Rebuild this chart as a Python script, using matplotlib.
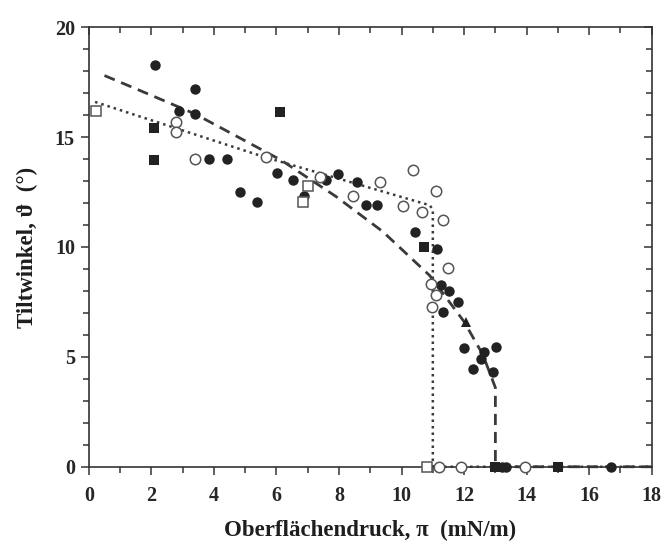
import matplotlib
matplotlib.use('Agg')
import matplotlib.pyplot as plt
from matplotlib.ticker import MultipleLocator

plt.rcParams['font.family'] = ['Liberation Serif', 'DejaVu Serif']
plt.rcParams['font.weight'] = 'bold'

# measured tilt angles, grouped by marker type (pi in mN/m, theta in deg)
filled_circle_x = [2.1, 3.39, 2.89, 3.39, 3.83, 4.42, 6.02, 4.82, 5.39, 6.53, 6.87,
                   7.57, 7.97, 8.57, 8.85, 9.22, 10.42, 11.13, 11.27, 11.51, 11.8,
                   11.32, 12.01, 13.03, 12.65, 12.55, 12.28, 12.92, 13.2, 13.35, 16.7]
filled_circle_y = [18.3, 17.2, 16.2, 16.05, 14.0, 14.0, 13.35, 12.5, 12.06, 13.05, 12.3,
                   13.05, 13.3, 12.97, 11.9, 11.9, 10.7, 9.92, 8.27, 8.01, 7.5,
                   7.06, 5.39, 5.47, 5.24, 4.9, 4.44, 4.33, 0, 0, 0]

open_circle_x = [2.8, 2.8, 3.39, 5.68, 7.38, 8.45, 9.3, 10.36, 10.04, 10.66, 11.09,
                 11.32, 11.48, 10.95, 11.1, 10.98, 11.2, 11.9, 13.95]
open_circle_y = [15.7, 15.25, 14.0, 14.1, 13.2, 12.3, 12.97, 13.5, 11.86, 11.6, 12.56,
                 11.23, 9.03, 8.32, 7.82, 7.29, 0, 0, 0]

filled_square_x = [6.1, 2.09, 2.09, 10.73, 13.0, 15.0]
filled_square_y = [16.15, 15.4, 13.95, 10.0, 0, 0]

open_square_x = [0.22, 7.0, 6.85, 10.8]
open_square_y = [16.2, 12.77, 12.06, 0]

triangle_x = [12.07]
triangle_y = [6.6]

# guide curves
dashed_x = [0.5, 2.0, 3.4, 6.15, 7.9, 9.4, 10.9, 12.0, 12.6, 13.0, 13.0, 18.0]
dashed_y = [17.8, 16.9, 16.05, 13.95, 12.3, 10.7, 8.7, 6.6, 5.1, 3.6, 0, 0]

dotted_x = [0.2, 5.6, 10.9, 11.0, 11.0, 18.0]
dotted_y = [16.6, 14.1, 11.9, 11.7, 0, 0]

ink = '#222222'

fig = plt.figure(figsize=(6.63, 5.55), dpi=100)
ax = fig.add_axes([0.134, 0.159, 0.849, 0.792])

ax.plot(dashed_x, dashed_y, color='#3a3a3a', lw=2.0, ls=(0, (4, 2.5)), zorder=2, clip_on=False)
ax.plot(dotted_x, dotted_y, color='#3a3a3a', lw=1.8, ls=(0, (1, 1.6)), zorder=2, clip_on=False)

ms = 7.5
ax.plot(filled_circle_x, filled_circle_y, 'o', color=ink, ms=ms, mew=0, zorder=3, clip_on=False)
ax.plot(open_circle_x, open_circle_y, 'o', mfc='white', mec='#555555', ms=ms, mew=1.1,
        zorder=4, clip_on=False)
ax.plot(filled_square_x, filled_square_y, 's', color=ink, ms=7.0, mew=0, zorder=3, clip_on=False)
ax.plot(open_square_x, open_square_y, 's', mfc='white', mec='#555555', ms=6.6, mew=1.1,
        zorder=4, clip_on=False)
ax.plot(triangle_x, triangle_y, '^', color=ink, ms=7.8, mew=0, zorder=3, clip_on=False)

ax.set_xlim(0, 18)
ax.set_ylim(0, 20)

for s in ax.spines.values():
    s.set_color('#333333')
    s.set_linewidth(1.2)

ax.xaxis.set_major_locator(MultipleLocator(2))
ax.xaxis.set_minor_locator(MultipleLocator(1))
ax.yaxis.set_major_locator(MultipleLocator(5))
ax.yaxis.set_minor_locator(MultipleLocator(1))
ax.tick_params(which='both', direction='out', color='#333333', width=1.1,
               top=False, right=False, labelsize=14.5, labelcolor='#262626')
ax.tick_params(axis='x', pad=8)
ax.tick_params(axis='y', pad=4)
ax.tick_params(which='major', length=6)
ax.tick_params(which='minor', length=4)

# inward ticks on the top and right frame
top = ax.secondary_xaxis('top')
top.xaxis.set_major_locator(MultipleLocator(2))
top.xaxis.set_minor_locator(MultipleLocator(1))
top.tick_params(which='both', direction='in', color='#333333', width=1.1, labeltop=False)
top.tick_params(which='major', length=6)
top.tick_params(which='minor', length=4)
top.spines['top'].set_visible(False)

right = ax.secondary_yaxis('right')
right.yaxis.set_major_locator(MultipleLocator(5))
right.yaxis.set_minor_locator(MultipleLocator(1))
right.tick_params(which='both', direction='in', color='#333333', width=1.1, labelright=False)
right.tick_params(which='major', length=6)
right.tick_params(which='minor', length=4)
right.spines['right'].set_visible(False)

ax.set_xlabel('Oberflächendruck, π  (mN/m)', fontsize=16.5, fontweight='bold',
              color='#1e1e1e', labelpad=10)
ax.set_ylabel('Tiltwinkel, ϑ  (°)', fontsize=16.5, fontweight='bold',
              color='#1e1e1e', labelpad=12)

fig.savefig('out.png', dpi=100, facecolor='white')
